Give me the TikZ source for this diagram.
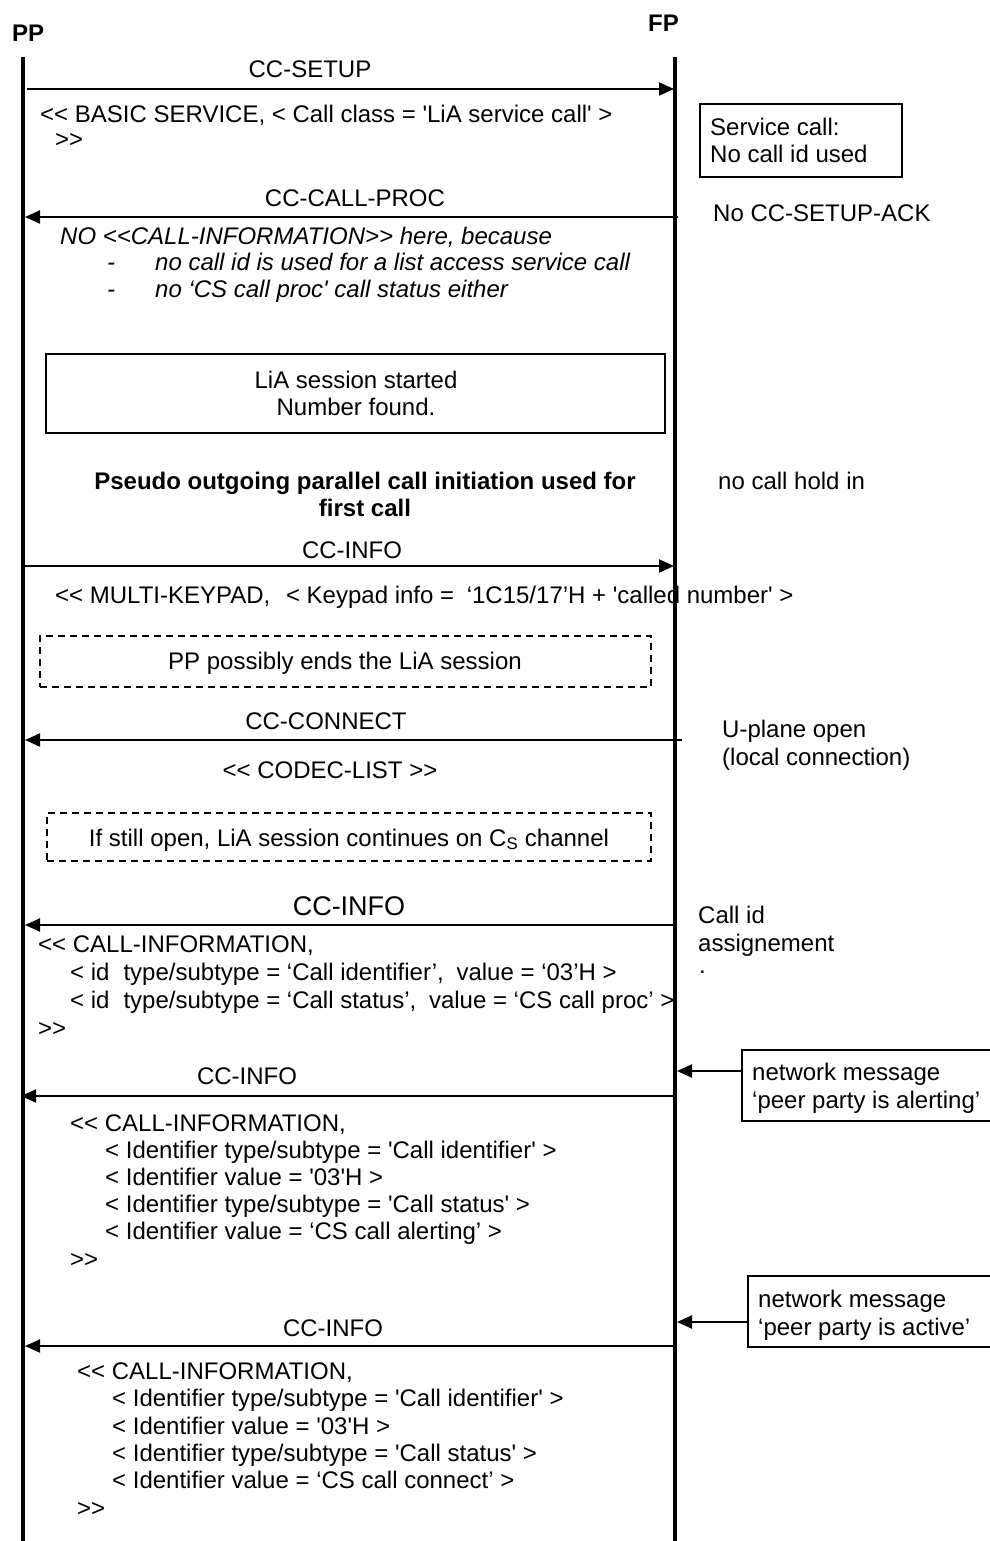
\documentclass[tikz,border=0pt]{standalone}
\usepackage{fontspec}
\newfontfamily\arial{Liberation Sans}
\usetikzlibrary{arrows.meta}
\begin{document}
\begin{tikzpicture}[x=1pt,y=-1pt,
  txt/.style={inner sep=0pt, anchor=base west, font=\arial\fontsize{24}{27}\selectfont},
  ctxt/.style={txt, anchor=base},
  btxt/.style={txt, font=\arial\bfseries\fontsize{24}{27}\selectfont},
  bctxt/.style={btxt, anchor=base},
  itxt/.style={txt, font=\arial\itshape\fontsize{24}{27}\selectfont},
  msg/.style={line width=2pt, -{Triangle[length=15pt,width=13pt]}},
  life/.style={line width=3.5pt},
  notebox/.style={draw, line width=2pt, inner sep=0pt},
  dashbox/.style={draw, line width=1.6pt, dash pattern=on 7pt off 5pt, inner sep=0pt},
]
\useasboundingbox (0,0) rectangle (989,1541);

% lifelines
\node[btxt] (PP) at (12,42) {PP};
\node[btxt] (FP) at (648,32) {FP};
\coordinate (pptop) at (23,57);
\coordinate (ppbot) at (23,1541);
\coordinate (fptop) at (675,57);
\coordinate (fpbot) at (675,1541);
\draw[life] (pptop) -- (ppbot);
\draw[life] (fptop) -- (fpbot);

% CC-SETUP
\node[ctxt] (l1) at (310,78) {CC-SETUP};
\coordinate (m1a) at (27,89);
\coordinate (m1b) at (674,89);
\draw[msg] (m1a) -- (m1b);
\node[txt] (t1a) at (40,123) {<< BASIC SERVICE, < Call class = 'LiA service call' >};
\node[txt] (t1b) at (55,148) {>>};

\node[notebox, minimum width=202pt, minimum height=73pt] (box1) at (801,140.5) {};
\node[txt] (box1a) at (710,136) {Service call:};
\node[txt] (box1b) at (710,163) {No call id used};

% CC-CALL-PROC
\node[ctxt] (l2) at (355,207) {CC-CALL-PROC};
\coordinate (m2a) at (678,217);
\coordinate (m2b) at (25,217);
\draw[msg] (m2a) -- (m2b);
\node[txt] (n2) at (713,221) {No CC-SETUP-ACK};
\node[itxt] (i1) at (60,244) {NO <<CALL-INFORMATION>> here, because};
\node[itxt] (i2d) at (107,270) {-};
\node[itxt] (i2) at (155,270) {no call id is used for a list access service call};
\node[itxt] (i3d) at (107,297) {-};
\node[itxt] (i3) at (155,297) {no ‘CS call proc' call status either};

% LiA box
\node[notebox, minimum width=619pt, minimum height=79pt] (box2) at (355.5,393.5) {};
\node[ctxt] (box2a) at (356,388) {LiA session started};
\node[ctxt] (box2b) at (356,415) {Number found.};

\node[bctxt] (h1) at (365,489) {Pseudo outgoing parallel call initiation used for};
\node[bctxt] (h2) at (365,516) {first call};
\node[txt] (n3) at (718,489) {no call hold in};

% CC-INFO 1
\node[ctxt] (l3) at (352,558) {CC-INFO};
\coordinate (m3a) at (25,566);
\coordinate (m3b) at (674,566);
\draw[msg] (m3a) -- (m3b);
\node[txt] (t3) at (55,603) {<< MULTI-KEYPAD,\hspace{9pt} < Keypad info =\hspace{6pt} ‘1C15/17’H + 'called number' >};

\node[dashbox, minimum width=611pt, minimum height=51pt] (box3) at (345.5,661.5) {};
\node[ctxt] (box3a) at (345,669) {PP possibly ends the LiA session};

% CC-CONNECT
\node[ctxt] (l4) at (326,729) {CC-CONNECT};
\coordinate (m4a) at (682,740);
\coordinate (m4b) at (25,740);
\draw[msg] (m4a) -- (m4b);
\node[txt] (n4a) at (722,737) {U-plane open};
\node[txt] (n4b) at (722,765) {(local connection)};
\node[ctxt] (t4) at (330,778) {<< CODEC-LIST >>};

\node[dashbox, minimum width=604pt, minimum height=48pt] (box4) at (349,837) {};
\node[ctxt] (box4a) at (349,846) {If still open, LiA session continues on C\textsubscript{S} channel};

% CC-INFO 2
\node[ctxt, font=\arial\fontsize{27}{30}\selectfont] (l5) at (349,915) {CC-INFO};
\coordinate (m5a) at (675,925);
\coordinate (m5b) at (25,925);
\draw[msg] (m5a) -- (m5b);
\node[txt] (n5a) at (698,923) {Call id};
\node[txt] (n5b) at (698,951) {assignement};
\node[txt] (n5c) at (699,973) {.};
\node[txt] (b1a) at (38,952) {<< CALL-INFORMATION,};
\node[txt] (b1b) at (70,980) {< id\hspace{14pt}type/subtype = ‘Call identifier’,\hspace{6pt} value = ‘03’H >};
\node[txt] (b1c) at (70,1008) {< id\hspace{14pt}type/subtype = ‘Call status’,\hspace{6pt} value = ‘CS call proc’ >};
\node[txt] (b1d) at (38,1036) {>>};

% network message alerting
\node[notebox, anchor=north west, minimum width=260pt, minimum height=71pt] (box5) at (741,1049) {};
\node[txt] (box5a) at (752,1080) {network message};
\node[txt] (box5b) at (752,1108) {‘peer party is alerting’};
\coordinate (m6s) at (677,1071);
\draw[msg] (box5.west |- m6s) -- (m6s);

% CC-INFO 3
\node[ctxt] (l6) at (247,1084) {CC-INFO};
\coordinate (m6a) at (675,1096);
\coordinate (m6b) at (21,1096);
\draw[msg] (m6a) -- (m6b);
\node[txt] (b2a) at (70,1131) {<< CALL-INFORMATION,};
\node[txt] (b2b) at (105,1158) {< Identifier type/subtype = 'Call identifier' >};
\node[txt] (b2c) at (105,1185) {< Identifier value = '03'H >};
\node[txt] (b2d) at (105,1212) {< Identifier type/subtype = 'Call status' >};
\node[txt] (b2e) at (105,1239) {< Identifier value = ‘CS call alerting’ >};
\node[txt] (b2f) at (70,1267) {>>};

% network message active
\node[notebox, anchor=north west, minimum width=260pt, minimum height=71pt] (box6) at (747,1275) {};
\node[txt] (box6a) at (758,1307) {network message};
\node[txt] (box6b) at (758,1335) {‘peer party is active’};
\coordinate (m7s) at (677,1322);
\draw[msg] (box6.west |- m7s) -- (m7s);

% CC-INFO 4
\node[ctxt] (l7) at (333,1336) {CC-INFO};
\coordinate (m7a) at (675,1346);
\coordinate (m7b) at (25,1346);
\draw[msg] (m7a) -- (m7b);
\node[txt] (b3a) at (77,1379) {<< CALL-INFORMATION,};
\node[txt] (b3b) at (112,1406) {< Identifier type/subtype = 'Call identifier' >};
\node[txt] (b3c) at (112,1434) {< Identifier value = '03'H >};
\node[txt] (b3d) at (112,1461) {< Identifier type/subtype = 'Call status' >};
\node[txt] (b3e) at (112,1488) {< Identifier value = ‘CS call connect’ >};
\node[txt] (b3f) at (77,1516) {>>};
\end{tikzpicture}
\end{document}
